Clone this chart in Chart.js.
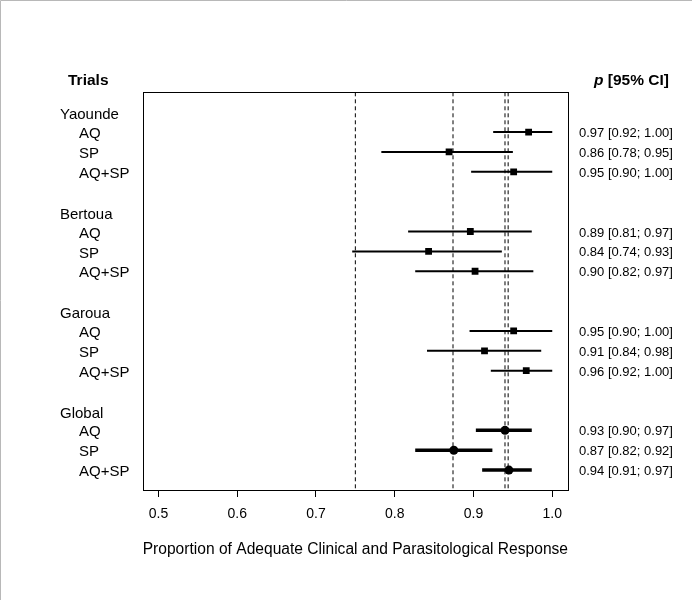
<!DOCTYPE html>
<html>
<head>
<meta charset="utf-8">
<script src="https://cdn.jsdelivr.net/npm/chart.js@4.4.1/dist/chart.umd.min.js"></script>
<style>
  html, body { margin: 0; padding: 0; background: #ffffff; }
  #wrap { width: 692px; height: 600px; position: relative; }
</style>
</head>
<body>
<div id="wrap"><canvas id="c" width="692" height="600"></canvas></div>
<script>
// ---------------- DATA ----------------
const sites = ['Yaounde', 'Bertoua', 'Garoua', 'Global'];
const arms = ['AQ', 'SP', 'AQ+SP'];
// point estimates, site-major order (Yaounde AQ, SP, AQ+SP, Bertoua ..., Global ...)
const pointEst = [0.970, 0.869, 0.951, 0.896, 0.843, 0.902, 0.951, 0.914, 0.967, 0.940, 0.875, 0.945];
const lowerCI  = [0.925, 0.783, 0.897, 0.817, 0.746, 0.826, 0.895, 0.841, 0.922, 0.903, 0.826, 0.911];
const upperCI  = [1.000, 0.950, 1.000, 0.974, 0.936, 0.976, 1.000, 0.986, 1.000, 0.974, 0.924, 0.974];
const ciText = [
  '0.97 [0.92; 1.00]', '0.86 [0.78; 0.95]', '0.95 [0.90; 1.00]',
  '0.89 [0.81; 0.97]', '0.84 [0.74; 0.93]', '0.90 [0.82; 0.97]',
  '0.95 [0.90; 1.00]', '0.91 [0.84; 0.98]', '0.96 [0.92; 1.00]',
  '0.93 [0.90; 0.97]', '0.87 [0.82; 0.92]', '0.94 [0.91; 0.97]'
];
const xTicks = [0.5, 0.6, 0.7, 0.8, 0.9, 1.0];
const refLines = [0.75, 0.874, 0.940, 0.944];
const axisTitle = 'Proportion of Adequate Clinical and Parasitological Response';
const leftHeader = 'Trials';
const rightHeaderP = 'p';
const rightHeaderRest = ' [95% CI]';

// ---------------- BUILD ----------------
const FONT = '"Liberation Sans", Arial, Helvetica, sans-serif';
const siteRow = s => 1 + 5 * s;
const armRow = i => 2 + 5 * Math.floor(i / 3) + (i % 3);
const isGlobal = i => Math.floor(i / 3) === sites.length - 1;

const idx = pointEst.map((_, i) => i);
const studyIdx = idx.filter(i => !isGlobal(i));
const globalIdx = idx.filter(i => isGlobal(i));

const segs = list => list.flatMap(i => [
  {x: lowerCI[i], y: armRow(i)}, {x: upperCI[i], y: armRow(i)}, {x: null, y: null}
]);

const datasets = [
  {
    label: 'ref', showLine: true, order: 5,
    data: refLines.flatMap(v => [{x: v, y: 0}, {x: v, y: 20}, {x: null, y: null}]),
    borderColor: '#000', borderWidth: 1, borderDash: [4, 3], pointRadius: 0, spanGaps: false
  },
  {
    label: 'ci', showLine: true, order: 3,
    data: segs(studyIdx), borderColor: '#000', borderWidth: 2, pointRadius: 0, spanGaps: false
  },
  {
    label: 'ciG', showLine: true, order: 3,
    data: segs(globalIdx), borderColor: '#000', borderWidth: 3.5, pointRadius: 0, spanGaps: false
  },
  {
    label: 'est', showLine: false, order: 1,
    data: studyIdx.map(i => ({x: pointEst[i], y: armRow(i)})),
    pointStyle: 'rect', pointRadius: 4.8, backgroundColor: '#000', borderWidth: 0
  },
  {
    label: 'estG', showLine: false, order: 1,
    data: globalIdx.map(i => ({x: pointEst[i], y: armRow(i)})),
    pointStyle: 'circle', pointRadius: 4.5, backgroundColor: '#000', borderWidth: 0
  }
];

const textPlugin = {
  id: 'forestText',
  beforeDraw(chart) {
    const ctx = chart.ctx;
    ctx.save();
    ctx.fillStyle = '#fff';
    ctx.fillRect(0, 0, chart.width, chart.height);
    ctx.strokeStyle = '#b8b8b8';
    ctx.lineWidth = 1;
    ctx.beginPath();
    ctx.moveTo(0.5, chart.height); ctx.lineTo(0.5, 0.5); ctx.lineTo(chart.width, 0.5);
    ctx.stroke();
    ctx.restore();
  },
  afterDraw(chart) {
    const ctx = chart.ctx;
    const y = chart.scales.y;
    const a = chart.chartArea;
    ctx.save();
    // plot box
    ctx.strokeStyle = '#000';
    ctx.lineWidth = 1;
    ctx.strokeRect(Math.round(a.left) + 0.5, Math.round(a.top) + 0.5,
                   Math.round(a.right - a.left), Math.round(a.bottom - a.top));
    ctx.fillStyle = '#000';
    ctx.textBaseline = 'middle';
    ctx.textAlign = 'left';
    // headers
    ctx.font = 'bold 15.5px ' + FONT;
    ctx.fillText(leftHeader, 68, 81);
    ctx.font = 'italic bold 15.5px ' + FONT;
    ctx.fillText(rightHeaderP, 594, 81);
    const pw = ctx.measureText(rightHeaderP).width;
    ctx.font = 'bold 15.5px ' + FONT;
    ctx.fillText(rightHeaderRest, 594 + pw, 81);
    // left labels
    ctx.font = '15px ' + FONT;
    sites.forEach((s, k) => ctx.fillText(s, 60, y.getPixelForValue(siteRow(k)) + 3));
    idx.forEach(i => ctx.fillText(arms[i % 3], 79, y.getPixelForValue(armRow(i)) + 2));
    // right labels
    ctx.font = '13px ' + FONT;
    idx.forEach(i => ctx.fillText(ciText[i], 579, y.getPixelForValue(armRow(i)) + 1.5));
    ctx.restore();
  }
};

new Chart(document.getElementById('c'), {
  type: 'scatter',
  data: { datasets },
  plugins: [textPlugin],
  options: {
    responsive: false,
    devicePixelRatio: 1,
    animation: false,
    layout: { padding: { left: 142.7, right: 124, top: 92.3, bottom: 0 } },
    plugins: { legend: { display: false }, tooltip: { enabled: false } },
    scales: {
      x: {
        type: 'linear', min: 0.48, max: 1.02,
        afterBuildTicks: sc => { sc.ticks = xTicks.map(v => ({value: v})); },
        afterFit: sc => { sc.height = 110; },
        border: { display: false },
        grid: { display: true, drawOnChartArea: false, drawTicks: true, tickLength: 7, color: '#000', lineWidth: 1 },
        ticks: { color: '#000', font: { family: FONT, size: 14 }, padding: 9, maxRotation: 0,
                 callback: v => Number(v).toFixed(1) },
        title: { display: true, text: axisTitle, color: '#000', font: { family: FONT, size: 15.6 },
                 padding: { top: 0, bottom: 41 } }
      },
      y: { type: 'linear', min: 0, max: 20, reverse: true, display: false }
    }
  }
});
</script>
</body>
</html>
